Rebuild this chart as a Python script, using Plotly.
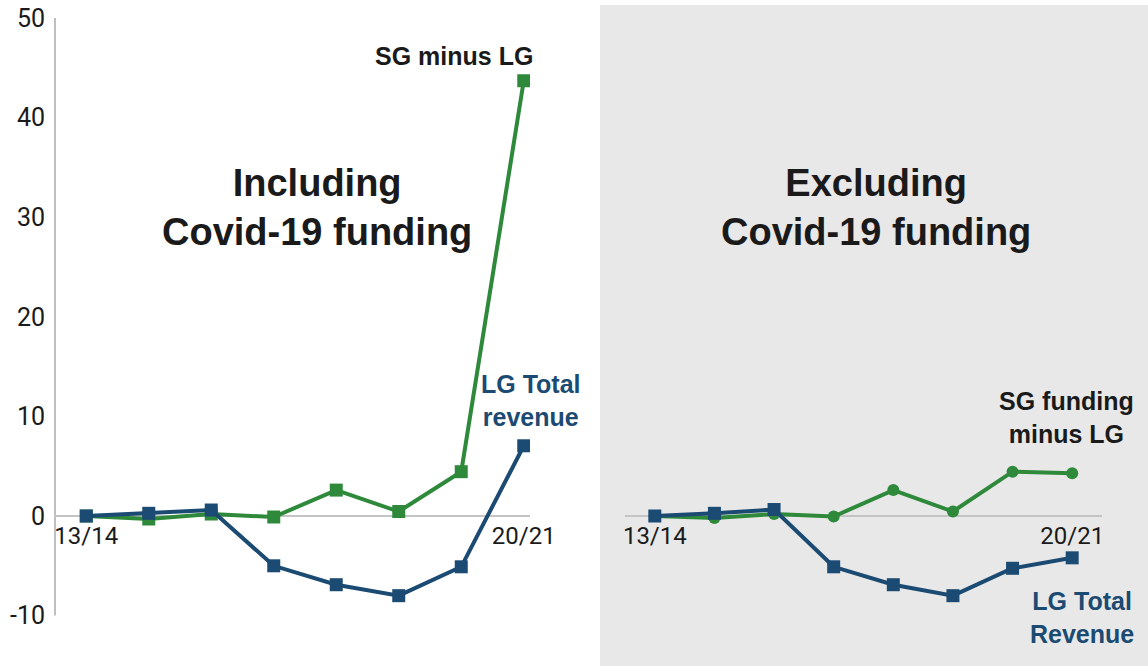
import plotly.graph_objects as go

years = ["13/14", "14/15", "15/16", "16/17", "17/18", "18/19", "19/20", "20/21"]
shown_ticks = ["13/14", "20/21"]
y_ticks = [-10, 0, 10, 20, 30, 40, 50]

incl_sg_minus_lg = [0, -0.3, 0.2, -0.1, 2.6, 0.45, 4.45, 43.7]
incl_lg_total = [0, 0.27, 0.6, -5.0, -6.9, -8.0, -5.1, 7.05]
excl_sg_minus_lg = [0, -0.2, 0.2, -0.05, 2.6, 0.45, 4.45, 4.3]
excl_lg_total = [0, 0.27, 0.65, -5.1, -6.9, -8.0, -5.25, -4.2]

GREEN = "#2e8a3a"
BLUE = "#1b4a72"
DARK = "#1a1a1a"
W, H = 1148, 666
ML = 55
TICKFONT = "Roboto"
LABELFONT = "Liberation Sans"

def px(x):
    return max(0.0, min(1.0, (x - ML) / (W - ML)))

def py(y):
    return max(0.0, min(1.0, (H - y) / H))

fig = go.Figure()
fig.add_trace(go.Scatter(x=years, y=incl_sg_minus_lg, mode="lines+markers", xaxis="x", yaxis="y",
                         line=dict(color=GREEN, width=4), marker=dict(symbol="square", size=13, color=GREEN)))
fig.add_trace(go.Scatter(x=years, y=incl_lg_total, mode="lines+markers", xaxis="x", yaxis="y",
                         line=dict(color=BLUE, width=4), marker=dict(symbol="square", size=13, color=BLUE)))
fig.add_trace(go.Scatter(x=years, y=excl_sg_minus_lg, mode="lines+markers", xaxis="x2", yaxis="y2",
                         line=dict(color=GREEN, width=4), marker=dict(symbol="circle", size=12, color=GREEN)))
fig.add_trace(go.Scatter(x=years, y=excl_lg_total, mode="lines+markers", xaxis="x2", yaxis="y2",
                         line=dict(color=BLUE, width=4), marker=dict(symbol="square", size=13, color=BLUE)))

yr = [-(H - 516) / 9.96, 516 / 9.96]

xcommon = dict(type="category", tickvals=shown_ticks, ticktext=shown_ticks, showgrid=False,
               showline=False, zeroline=False, ticks="", anchor="free", position=py(516),
               tickfont=dict(family=TICKFONT, size=24, color=DARK), ticklabelstandoff=3,
               automargin=False)

fig.update_layout(
    width=W, height=H,
    margin=dict(l=ML, r=0, t=0, b=0, pad=0),
    paper_bgcolor="white", plot_bgcolor="rgba(0,0,0,0)",
    showlegend=False,
    xaxis=dict(domain=[px(55), px(530)], range=[-0.5, 7.1], **xcommon),
    xaxis2=dict(domain=[px(625), px(1102)], range=[-0.5, 7.5], **xcommon),
    yaxis=dict(range=yr, tickvals=y_ticks, ticktext=[str(v) for v in y_ticks], showgrid=False,
               showline=False, ticks="",
               zeroline=True, zerolinecolor="#c4c4c4", zerolinewidth=1.5, anchor="free", position=0,
               tickfont=dict(family=TICKFONT, size=25, color=DARK), ticklabelstandoff=10,
               automargin=False),
    yaxis2=dict(range=yr, matches="y", anchor="x2", showticklabels=False, showgrid=False,
                showline=False, ticks="", zeroline=True, zerolinecolor="#c4c4c4", zerolinewidth=1.5,
                automargin=False),
    shapes=[
        dict(type="rect", xref="paper", yref="paper", x0=px(600), x1=1, y0=0, y1=py(5),
             fillcolor="#e8e8e8", line=dict(width=0), layer="below"),
        dict(type="line", xref="paper", yref="y", x0=0, x1=0, y0=-10, y1=50,
             line=dict(color="#aaaaaa", width=1.5), layer="below"),
    ],
)

ann = [
    dict(x=317, y=208, text="<b>Including<br>Covid-19 funding</b>", color=DARK, size=38),
    dict(x=876, y=208, text="<b>Excluding<br>Covid-19 funding</b>", color=DARK, size=38),
    dict(x=454, y=56, text="<b>SG minus LG</b>", color=DARK, size=25),
    dict(x=531, y=400, text="<b>LG Total<br>revenue</b>", color=BLUE, size=25),
    dict(x=1066, y=418, text="<b>SG funding<br>minus LG</b>", color=DARK, size=25),
    dict(x=1082, y=617, text="<b>LG Total<br>Revenue</b>", color=BLUE, size=25),
]
for a in ann:
    fig.add_annotation(x=px(a["x"]), y=py(a["y"]), xref="paper", yref="paper", text=a["text"],
                       showarrow=False, xanchor="center", yanchor="middle", align="center",
                       font=dict(family=LABELFONT, size=a["size"], color=a["color"]))

fig.write_html("out.html", config={"displayModeBar": False},
               post_script="document.body.style.margin='0';document.body.style.overflow='hidden';")
